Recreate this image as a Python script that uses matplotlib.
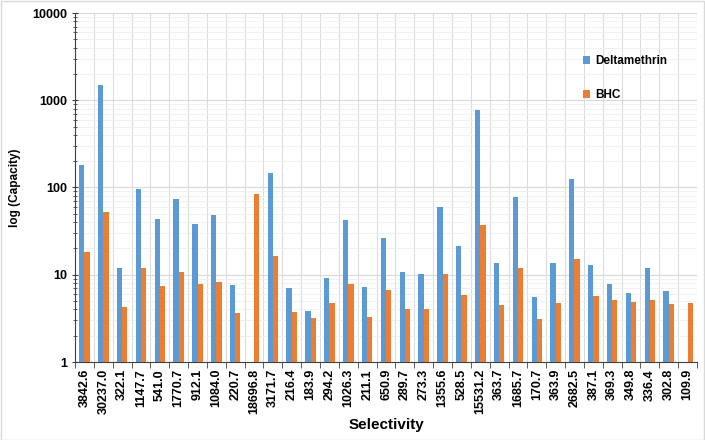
import matplotlib.pyplot as plt
import numpy as np
from matplotlib.ticker import LogLocator, NullFormatter, FixedLocator

plt.rcParams['font.family'] = ['Liberation Sans', 'DejaVu Sans']

selectivity = ["3842.6", "30237.0", "322.1", "1147.7", "541.0", "1770.7", "912.1",
               "1084.0", "220.7", "18696.8", "3171.7", "216.4", "183.9", "294.2",
               "1026.3", "211.1", "650.9", "289.7", "273.3", "1355.6", "528.5",
               "15531.2", "363.7", "1685.7", "170.7", "363.9", "2682.5", "387.1",
               "369.3", "349.8", "336.4", "302.8", "109.9"]

deltamethrin = [181, 1500, 12.0, 95, 44, 74, 38, 49, 7.6, np.nan, 147, 7.1, 3.8,
                9.2, 42, 7.2, 26.5, 10.8, 10.2, 59, 21.3, 770, 13.5, 77, 5.5,
                13.8, 125, 12.9, 7.9, 6.2, 12.0, 6.5, np.nan]
bhc = [18.3, 53, 4.3, 11.8, 7.4, 10.7, 7.8, 8.2, 3.6, 84, 16.2, 3.7, 3.2,
       4.7, 7.8, 3.3, 6.7, 4.1, 4.0, 10.1, 5.9, 37, 4.5, 12.1, 3.1,
       4.8, 15.1, 5.7, 5.1, 4.85, 5.1, 4.6, 4.8]

blue = '#5B9BD5'
orange = '#ED7D31'

fig = plt.figure(figsize=(7.05, 4.4), dpi=100)
ax = fig.add_axes([75/705, 1 - 362/440, 622/705, 349/440])

ind = np.arange(len(selectivity))
w = 0.28
d = np.array(deltamethrin, dtype=float)
b = np.array(bhc, dtype=float)
ax.bar(ind - w/2, d - 1, w, bottom=1, color=blue, label='Deltamethrin', zorder=3)
ax.bar(ind + w/2, b - 1, w, bottom=1, color=orange, label='BHC', zorder=3)

ax.set_yscale('log')
ax.set_ylim(1, 10000)
ax.set_xlim(-0.5, len(selectivity) - 0.5)

ax.yaxis.set_major_locator(LogLocator(base=10))
ax.yaxis.set_minor_locator(LogLocator(base=10, subs=np.arange(2, 10)))
ax.yaxis.set_minor_formatter(NullFormatter())
ax.set_yticks([1, 10, 100, 1000, 10000])
ax.set_yticklabels(['1', '10', '100', '1000', '10000'], fontweight='bold', fontsize=9)

ax.set_xticks(ind)
ax.set_xticklabels(selectivity, rotation=90, fontweight='bold', fontsize=9)
ax.tick_params(axis='x', which='major', length=0, pad=5)
ax.xaxis.set_minor_locator(FixedLocator(np.arange(-0.5, len(selectivity), 1)))
ax.tick_params(axis='x', which='minor', length=4, direction='out', color='#404040')
ax.tick_params(axis='y', which='major', length=5, direction='inout', color='#404040', pad=3)
ax.tick_params(axis='y', which='minor', length=3, direction='inout', color='#404040')

ax.grid(True, which='major', axis='y', color='#d9d9d9', lw=0.8, zorder=0)
ax.grid(True, which='minor', axis='y', color='#efefef', lw=0.6, zorder=0)
ax.grid(True, which='minor', axis='x', color='#dcdcdc', lw=0.8, zorder=0)

for s in ['top', 'right']:
    ax.spines[s].set_visible(False)
ax.spines['left'].set_color('#404040')
ax.spines['bottom'].set_color('#404040')

ax.set_ylabel('log (Capacity)', fontweight='bold', fontsize=8.5, labelpad=8)
fig.text(386/705, 1 - 425/440, 'Selectivity', fontweight='bold', fontsize=11,
         ha='center', va='center')

ax.legend(loc='upper left', bbox_to_anchor=(0.80, 0.91), frameon=False,
          prop={'weight': 'bold', 'size': 8.5}, handlelength=0.6, handleheight=0.7,
          handletextpad=0.4, labelspacing=1.9)

fig.patches.append(plt.Rectangle((0.001, 0.001), 0.997, 0.997, transform=fig.transFigure,
                                 fill=False, edgecolor='#d9d9d9', lw=1))

fig.savefig('out.png', dpi=100)
